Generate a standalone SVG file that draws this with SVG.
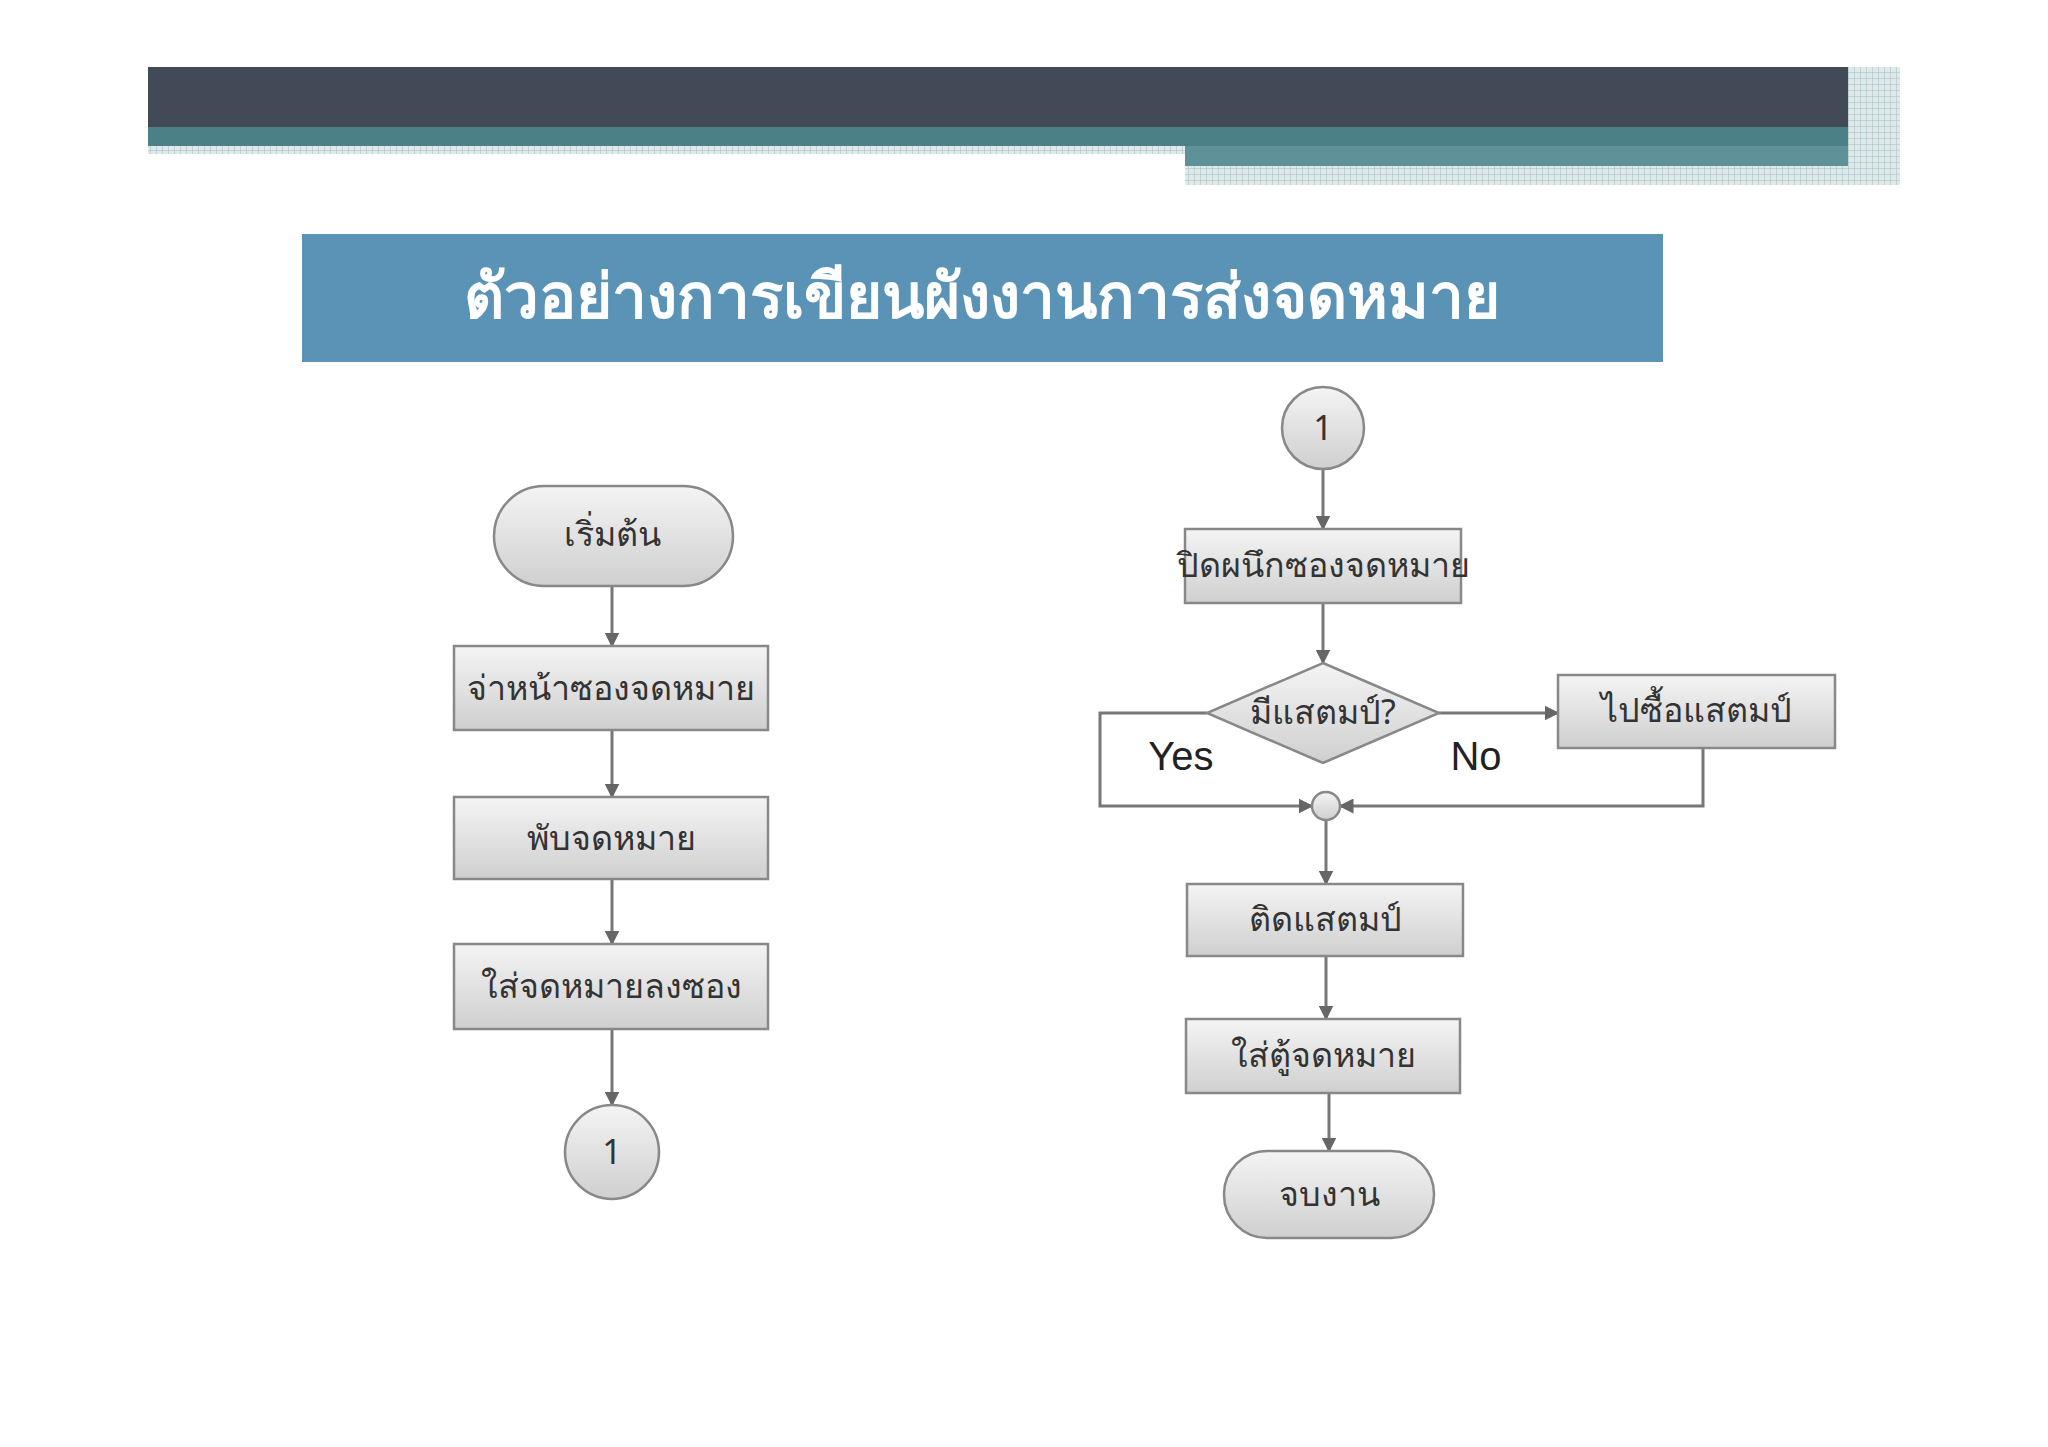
<svg xmlns="http://www.w3.org/2000/svg" width="2048" height="1447" viewBox="0 0 2048 1447">
<defs>
<linearGradient id="g" x1="0" y1="0" x2="0" y2="1"><stop offset="0" stop-color="#f4f4f4"/><stop offset="1" stop-color="#cfcfcf"/></linearGradient>
<pattern id="grid" width="6" height="6" patternUnits="userSpaceOnUse"><rect width="6" height="6" fill="#dfe9ea"/><path d="M0 0H6M0 0V6" stroke="#9fbcbf" stroke-width="1"/></pattern>
<marker id="a" viewBox="0 0 10 10" refX="9" refY="5" markerWidth="5" markerHeight="5" orient="auto"><path d="M0 0L10 5L0 10z" fill="#666"/></marker>
</defs>
<style>
.n{fill:url(#g);stroke:#888;stroke-width:2.5}
.t{font-family:"Noto Sans","DejaVu Sans",sans-serif;font-size:34px;fill:#333;text-anchor:middle}
.c{fill:none;stroke:#777;stroke-width:3;marker-end:url(#a)}
.l{fill:none;stroke:#777;stroke-width:3}
</style>
<rect width="2048" height="1447" fill="#fff"/>
<g id="header">
<rect x="148" y="67" width="1700" height="60" fill="#434a57"/>
<rect x="148" y="127" width="1700" height="19" fill="#4a8086"/>
<rect x="148" y="146" width="1037" height="8" fill="url(#grid)"/>
<rect x="1185" y="146" width="663" height="20" fill="#5e9298"/>
<rect x="1185" y="166" width="663" height="19" fill="url(#grid)"/>
<rect x="1848" y="67" width="52" height="118" fill="url(#grid)"/>
</g>
<g id="title">
<rect x="302" y="234" width="1361" height="128" fill="#5b93b7"/>
<text x="982" y="318" font-family="'Liberation Serif','DejaVu Serif',serif" font-size="62" font-weight="bold" fill="#fff" text-anchor="middle">ตัวอย่างการเขียนผังงานการส่งจดหมาย</text>
</g>
<g id="connectors">
<path class="c" d="M612 586V646"/>
<path class="c" d="M612 730V797"/>
<path class="c" d="M612 879V944"/>
<path class="c" d="M612 1029V1105"/>
<path class="c" d="M1323 469V529"/>
<path class="c" d="M1323 603V663"/>
<path class="c" d="M1439 713H1558"/>
<path class="c" d="M1207 713H1100V806H1312"/>
<path class="c" d="M1703 748V806H1340"/>
<path class="c" d="M1326 820V884"/>
<path class="c" d="M1326 956V1019"/>
<path class="c" d="M1329 1093V1151"/>
</g>
<g id="start"><rect class="n" x="494" y="486" width="239" height="100" rx="50"/><text class="t" x="612" y="546">เริ่มต้น</text></g>
<g id="b1"><rect class="n" x="454" y="646" width="314" height="84"/><text class="t" x="611" y="700">จ่าหน้าซองจดหมาย</text></g>
<g id="b2"><rect class="n" x="454" y="797" width="314" height="82"/><text class="t" x="611" y="850">พับจดหมาย</text></g>
<g id="b3"><rect class="n" x="454" y="944" width="314" height="85"/><text class="t" x="611" y="998">ใส่จดหมายลงซอง</text></g>
<g id="c1"><circle class="n" cx="612" cy="1152" r="47"/><text class="t" x="612" y="1164">1</text></g>
<g id="c2"><circle class="n" cx="1323" cy="428" r="41"/><text class="t" x="1323" y="440">1</text></g>
<g id="b4"><rect class="n" x="1185" y="529" width="276" height="74"/><text class="t" x="1323" y="577" font-size="31">ปิดผนึกซองจดหมาย</text></g>
<g id="d"><path class="n" d="M1323 663L1439 713L1323 763L1207 713z"/><text class="t" x="1323" y="724" font-size="31">มีแสตมป์?</text></g>
<g id="b5"><rect class="n" x="1558" y="675" width="277" height="73"/><text class="t" x="1696" y="722">ไปซื้อแสตมป์</text></g>
<text x="1181" y="770" font-family="'Liberation Sans',sans-serif" font-size="40" text-anchor="middle" fill="#222">Yes</text>
<text x="1476" y="770" font-family="'Liberation Sans',sans-serif" font-size="40" text-anchor="middle" fill="#222">No</text>
<g id="j"><circle class="n" cx="1326" cy="806" r="14"/></g>
<g id="b6"><rect class="n" x="1187" y="884" width="276" height="72"/><text class="t" x="1325" y="931">ติดแสตมป์</text></g>
<g id="b7"><rect class="n" x="1186" y="1019" width="274" height="74"/><text class="t" x="1323" y="1067">ใส่ตู้จดหมาย</text></g>
<g id="end"><rect class="n" x="1224" y="1151" width="210" height="87" rx="43"/><text class="t" x="1329" y="1206">จบงาน</text></g>
</svg>
